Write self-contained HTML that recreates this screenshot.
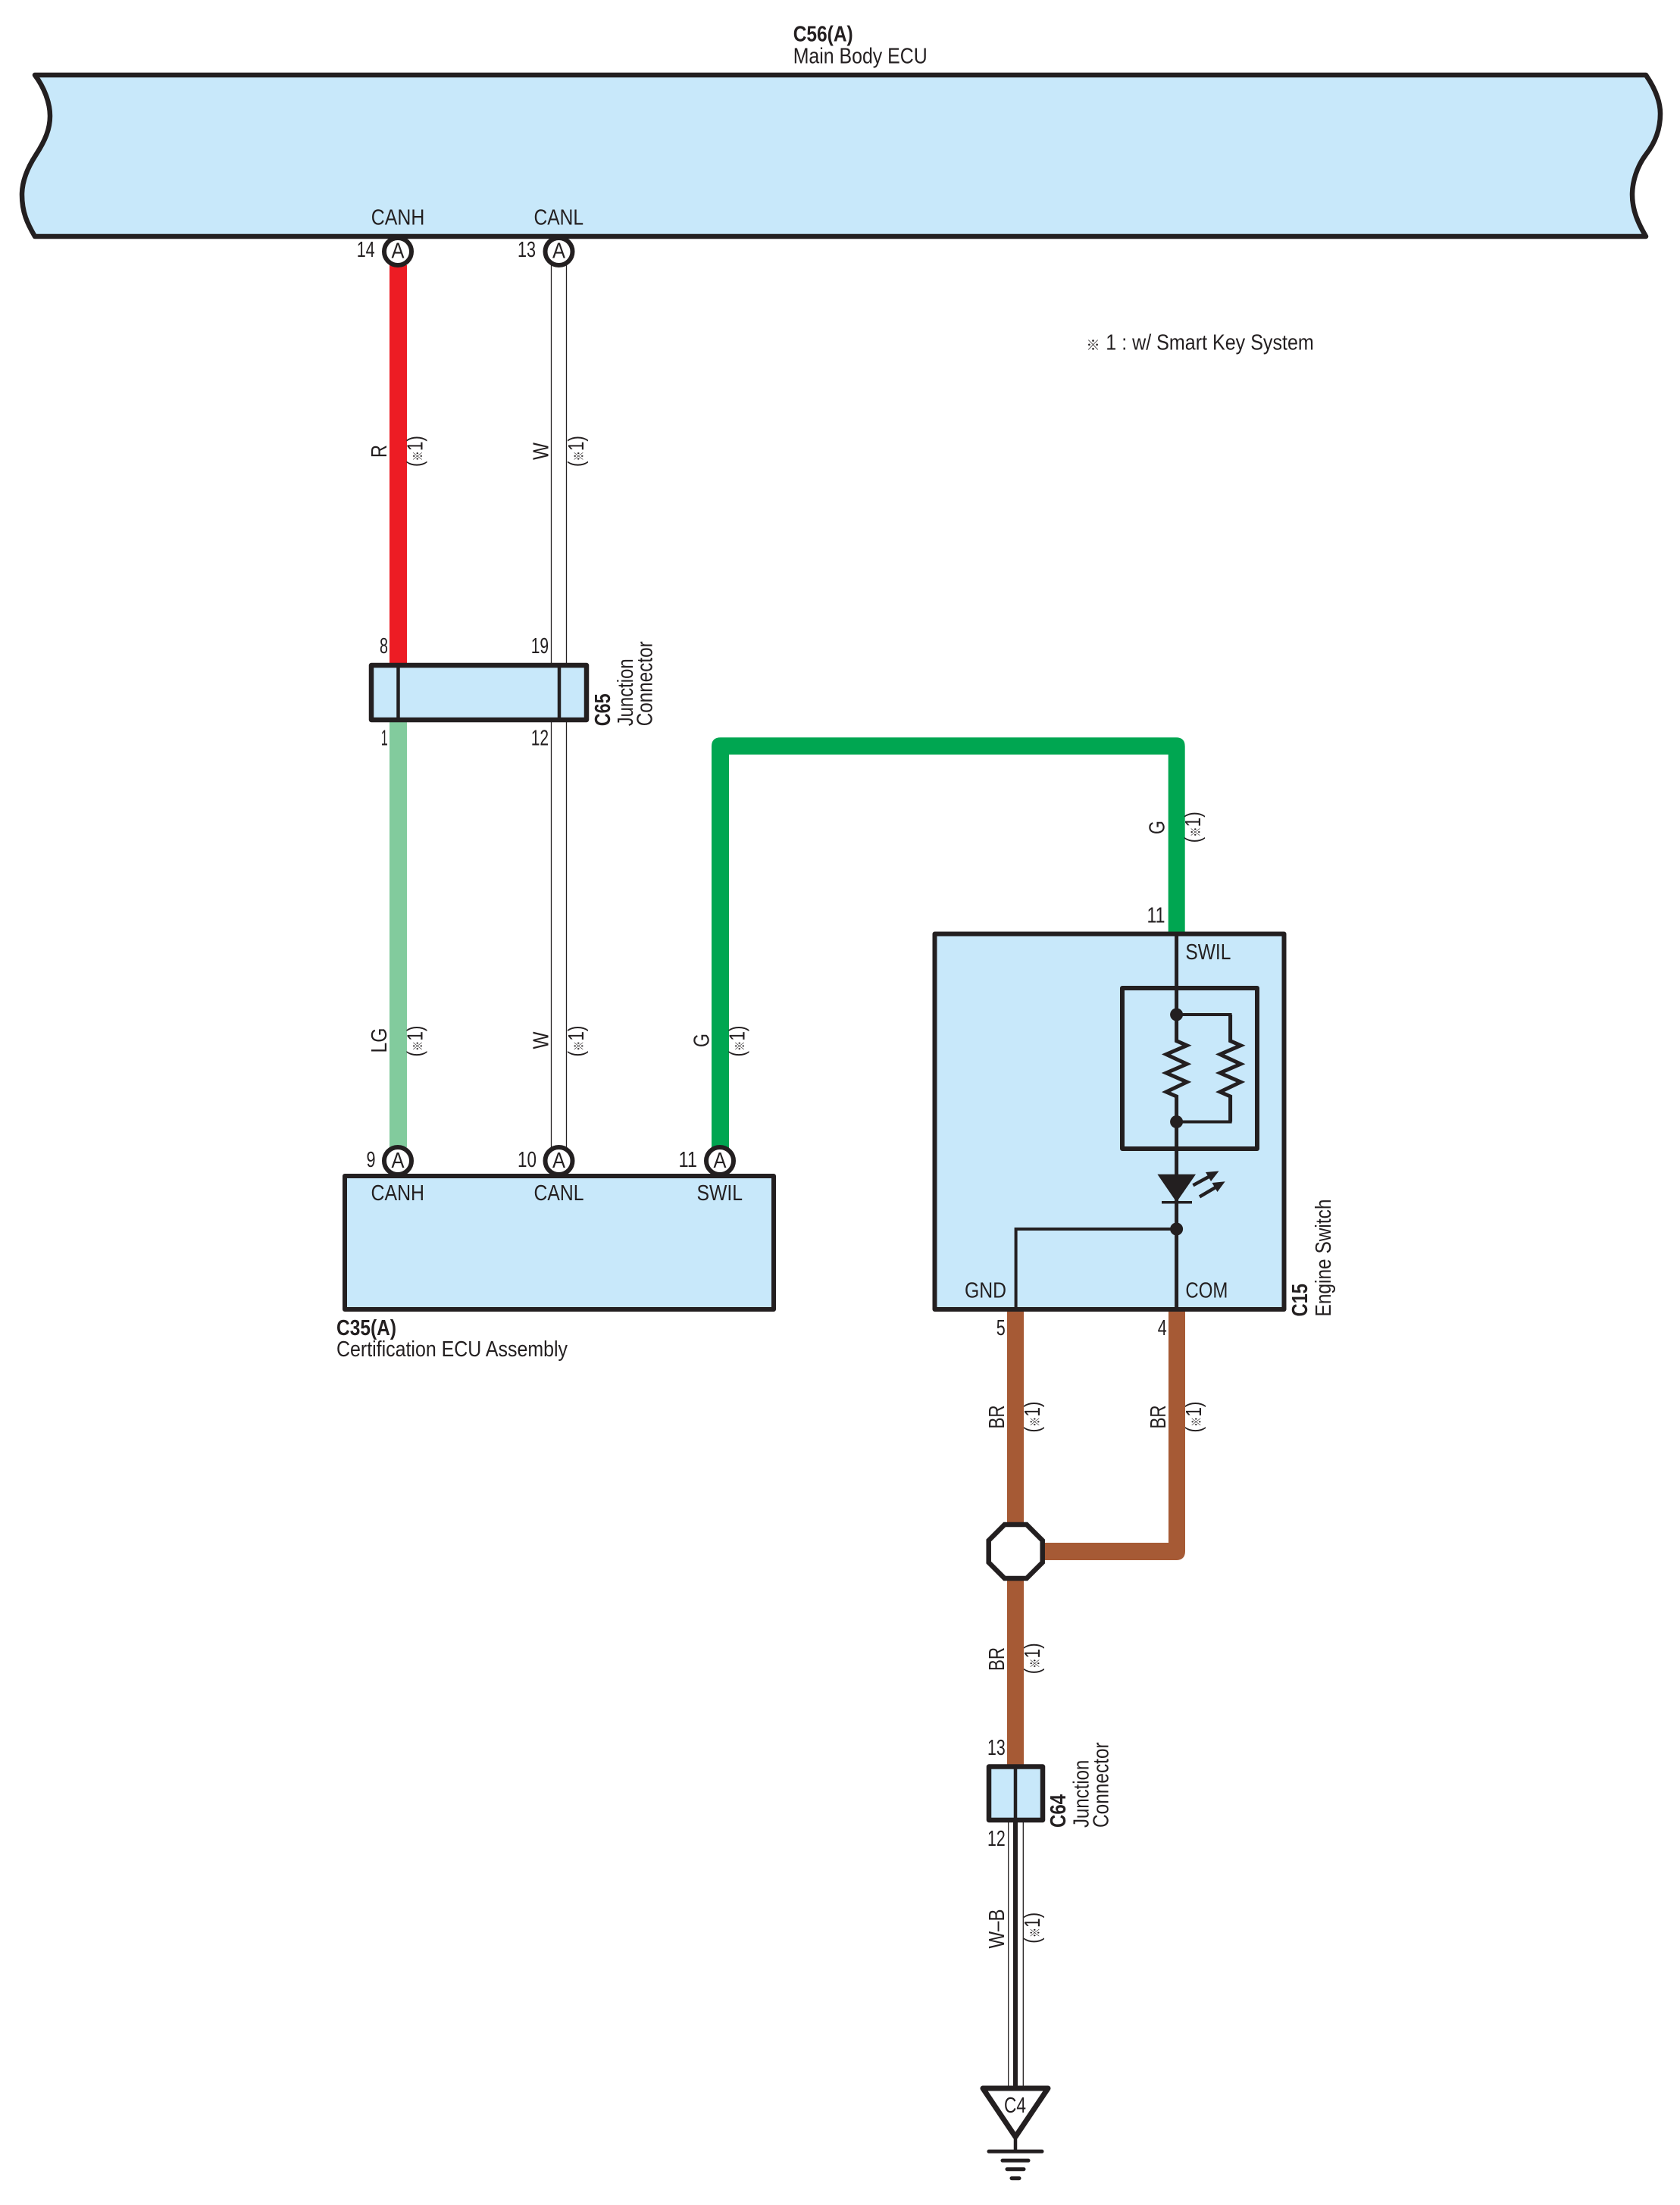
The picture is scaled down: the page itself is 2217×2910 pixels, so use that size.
<!DOCTYPE html>
<html>
<head>
<meta charset="utf-8">
<style>
html,body{margin:0;padding:0;background:#fff}
svg{display:block}
text{font-family:"Liberation Sans","Noto Sans CJK JP",sans-serif;font-size:29px;fill:#231f20}
.b{font-weight:bold}
</style>
</head>
<body>
<svg width="2217" height="2910" viewBox="0 0 2217 2910" xmlns="http://www.w3.org/2000/svg">
<rect width="2217" height="2910" fill="#fff"/>

<!-- Main body ECU -->
<path d="M46 99H2172C2185 118 2191 135 2191 150C2191 172 2183 190 2172 204C2160 220 2154 240 2154 257C2154 278 2162 295 2172 312H46C36 295 29 280 29 257C29 240 36 222 47 205C60 185 66 170 66 153C66 135 58 115 46 99Z" fill="#c8e8fa" stroke="#231f20" stroke-width="6.5" stroke-linejoin="round"/>

<!-- Wires -->
<rect x="514" y="350" width="23" height="526" fill="#ed1c24"/>
<rect x="514" y="952" width="23" height="562" fill="#82cb9d"/>
<g stroke="#231f20" stroke-width="1.3" fill="none">
<path d="M727.5 350V1514M747.5 350V1514"/>
<path d="M1330.7 2405V2756M1350.3 2405V2756"/>
</g>
<path d="M939 1515V985Q939 973.3 951 973.3H1552Q1563.7 973.3 1563.7 985V1233H1541.7V995.7H962V1515Z" fill="#00a651"/>
<path d="M1542 1728V2036H1375V2059H1552Q1564 2059 1564 2047V1728Z" fill="#a65a35"/>
<rect x="1329" y="1728" width="22" height="285" fill="#a65a35"/>
<rect x="1329" y="2083" width="22" height="250" fill="#a65a35"/>
<rect x="1337" y="2402" width="6" height="356" fill="#231f20"/>

<!-- C65 -->
<rect x="490" y="878" width="284" height="72" fill="#c8e8fa" stroke="#231f20" stroke-width="6.5" stroke-linejoin="round"/>
<path d="M525.5 878V950M738 878V950" stroke="#231f20" stroke-width="4.5" fill="none"/>

<!-- C35(A) -->
<rect x="455" y="1552" width="566" height="176" fill="#c8e8fa" stroke="#231f20" stroke-width="6" stroke-linejoin="round"/>

<!-- pin circles -->
<g fill="#fff" stroke="#231f20" stroke-width="6">
<circle cx="525" cy="332" r="18"/>
<circle cx="737.5" cy="332" r="18"/>
<circle cx="525" cy="1532" r="18"/>
<circle cx="737.5" cy="1532" r="18"/>
<circle cx="950" cy="1532" r="18"/>
</g>
<g text-anchor="middle">
<text x="525" y="340.5" textLength="17" lengthAdjust="spacingAndGlyphs" style="font-size:29px">A</text>
<text x="737.5" y="340.5" textLength="17" lengthAdjust="spacingAndGlyphs" style="font-size:29px">A</text>
<text x="525" y="1541" textLength="17" lengthAdjust="spacingAndGlyphs" style="font-size:29px">A</text>
<text x="737.5" y="1541" textLength="17" lengthAdjust="spacingAndGlyphs" style="font-size:29px">A</text>
<text x="950" y="1541" textLength="17" lengthAdjust="spacingAndGlyphs" style="font-size:29px">A</text>
</g>

<!-- C15 -->
<rect x="1233.5" y="1232.5" width="461" height="495.5" fill="#c8e8fa" stroke="#231f20" stroke-width="6" stroke-linejoin="round"/>
<rect x="1481" y="1304" width="178" height="212" fill="none" stroke="#231f20" stroke-width="6" stroke-linejoin="round"/>
<g fill="none" stroke="#231f20" stroke-width="5" stroke-linejoin="miter">
<path d="M1552.6 1233V1373.7L1566.3 1379.7L1539 1391.5L1566.3 1404.2L1539 1416L1566.3 1428L1539 1441L1552.6 1447V1728"/>
<path d="M1623.6 1339V1373.7L1637.3 1379.7L1610 1391.5L1637.3 1404.2L1610 1416L1637.3 1428L1610 1441L1623.6 1447V1480.5"/>
</g>
<g fill="none" stroke="#231f20" stroke-width="4">
<path d="M1552.6 1339H1625.6M1552.6 1480.5H1625.6"/>
<path d="M1552.6 1622H1340.6V1728"/>
</g>
<g fill="#231f20">
<circle cx="1552.6" cy="1339" r="8.5"/>
<circle cx="1552.6" cy="1480.5" r="8.5"/>
<circle cx="1552.6" cy="1622" r="8.5"/>
<polygon points="1527.4,1549.7 1578,1549.7 1552.6,1586.5"/>
<rect x="1533" y="1585" width="40" height="3.5"/>
<polygon points="1608.5,1545.5 1598,1559 1591,1547"/>
<polygon points="1616.7,1559.3 1606.5,1573 1599.5,1561"/>
</g>
<path d="M1574.4 1564.3L1596 1552.5M1583 1579.4L1604 1567" stroke="#231f20" stroke-width="4.5" fill="none"/>

<!-- Splice -->
<polygon points="1325.7,2012 1354.7,2012 1375.7,2033 1375.7,2062 1354.7,2083 1325.7,2083 1304.7,2062 1304.7,2033" fill="#fff" stroke="#231f20" stroke-width="6.5"/>

<!-- C64 -->
<rect x="1305" y="2331.5" width="71" height="70.5" fill="#c8e8fa" stroke="#231f20" stroke-width="6.5" stroke-linejoin="round"/>
<path d="M1340 2331.5V2402" stroke="#231f20" stroke-width="4.5" fill="none"/>

<!-- Ground -->
<polygon points="1297,2756 1383,2756 1340,2820" fill="#fff" stroke="#231f20" stroke-width="7" stroke-linejoin="round"/>
<path d="M1340 2820V2839" stroke="#231f20" stroke-width="4.5"/>
<g stroke="#231f20" stroke-width="5" stroke-linecap="round">
<path d="M1305 2839.3H1375M1323 2851.3H1357M1329 2862.7H1351M1335 2874.7H1345"/>
</g>

<!-- Horizontal labels -->
<text class="b" x="1046.7" y="54.3" textLength="79" lengthAdjust="spacingAndGlyphs">C56(A)</text>
<text x="1046.7" y="83.3" textLength="177" lengthAdjust="spacingAndGlyphs">Main Body ECU</text>
<text x="1433.5" y="462" style="font-size:18px">※</text>
<text x="1459.3" y="461.7" textLength="274.5" lengthAdjust="spacingAndGlyphs">1 : w/ Smart Key System</text>

<text x="489.8" y="296.7" textLength="70.5" lengthAdjust="spacingAndGlyphs">CANH</text>
<text x="704.5" y="296.7" textLength="65.5" lengthAdjust="spacingAndGlyphs">CANL</text>
<text x="470.7" y="339" textLength="24" lengthAdjust="spacingAndGlyphs">14</text>
<text x="683" y="339" textLength="24" lengthAdjust="spacingAndGlyphs">13</text>

<text x="501" y="862" textLength="11" lengthAdjust="spacingAndGlyphs">8</text>
<text x="700.7" y="862" textLength="23.4" lengthAdjust="spacingAndGlyphs">19</text>
<text x="502.7" y="983.3" textLength="9" lengthAdjust="spacingAndGlyphs">1</text>
<text x="700.7" y="983.3" textLength="23.4" lengthAdjust="spacingAndGlyphs">12</text>

<text x="483.5" y="1540" textLength="12" lengthAdjust="spacingAndGlyphs">9</text>
<text x="683" y="1540" textLength="25" lengthAdjust="spacingAndGlyphs">10</text>
<text x="895.5" y="1540" textLength="24.5" lengthAdjust="spacingAndGlyphs">11</text>
<text x="489.5" y="1584" textLength="70.5" lengthAdjust="spacingAndGlyphs">CANH</text>
<text x="704.5" y="1584" textLength="66" lengthAdjust="spacingAndGlyphs">CANL</text>
<text x="919.5" y="1584" textLength="60.5" lengthAdjust="spacingAndGlyphs">SWIL</text>
<text class="b" x="444" y="1762" textLength="79" lengthAdjust="spacingAndGlyphs">C35(A)</text>
<text x="444" y="1790" textLength="305" lengthAdjust="spacingAndGlyphs">Certification ECU Assembly</text>

<text x="1513.5" y="1217.6" textLength="24" lengthAdjust="spacingAndGlyphs">11</text>
<text x="1564.4" y="1266" textLength="60" lengthAdjust="spacingAndGlyphs">SWIL</text>
<text x="1273" y="1712.6" textLength="55" lengthAdjust="spacingAndGlyphs">GND</text>
<text x="1564.4" y="1712.6" textLength="56" lengthAdjust="spacingAndGlyphs">COM</text>
<text x="1314.7" y="1762" textLength="12" lengthAdjust="spacingAndGlyphs">5</text>
<text x="1527.8" y="1762" textLength="12" lengthAdjust="spacingAndGlyphs">4</text>
<text x="1303" y="2316" textLength="23.7" lengthAdjust="spacingAndGlyphs">13</text>
<text x="1303" y="2436" textLength="23.7" lengthAdjust="spacingAndGlyphs">12</text>
<text x="1325" y="2788" textLength="29" lengthAdjust="spacingAndGlyphs">C4</text>

<!-- Rotated connector labels -->
<text class="b" transform="translate(805 958.3) rotate(-90)" textLength="43" lengthAdjust="spacingAndGlyphs">C65</text>
<text transform="translate(835 958.3) rotate(-90)" textLength="89" lengthAdjust="spacingAndGlyphs">Junction</text>
<text transform="translate(860.7 958.3) rotate(-90)" textLength="112" lengthAdjust="spacingAndGlyphs">Connector</text>
<text class="b" transform="translate(1725 1737.5) rotate(-90)" textLength="43.5" lengthAdjust="spacingAndGlyphs">C15</text>
<text transform="translate(1756 1737.5) rotate(-90)" textLength="155" lengthAdjust="spacingAndGlyphs">Engine Switch</text>
<text class="b" transform="translate(1406 2412) rotate(-90)" textLength="44" lengthAdjust="spacingAndGlyphs">C64</text>
<text transform="translate(1436.7 2412) rotate(-90)" textLength="89.3" lengthAdjust="spacingAndGlyphs">Junction</text>
<text transform="translate(1462.7 2412) rotate(-90)" textLength="112.7" lengthAdjust="spacingAndGlyphs">Connector</text>

<!-- Rotated wire colour labels -->
<g text-anchor="middle">
<text transform="translate(510 595.5) rotate(-90)" textLength="17" lengthAdjust="spacingAndGlyphs">R</text>
<text transform="translate(723.3 595.5) rotate(-90)" textLength="23" lengthAdjust="spacingAndGlyphs">W</text>
<text transform="translate(510 1373) rotate(-90)" textLength="33" lengthAdjust="spacingAndGlyphs">LG</text>
<text transform="translate(723.3 1373) rotate(-90)" textLength="23" lengthAdjust="spacingAndGlyphs">W</text>
<text transform="translate(935.5 1373) rotate(-90)" textLength="18" lengthAdjust="spacingAndGlyphs">G</text>
<text transform="translate(1536.7 1092) rotate(-90)" textLength="18" lengthAdjust="spacingAndGlyphs">G</text>
<text transform="translate(1325 1870) rotate(-90)" textLength="31" lengthAdjust="spacingAndGlyphs">BR</text>
<text transform="translate(1538 1870) rotate(-90)" textLength="31" lengthAdjust="spacingAndGlyphs">BR</text>
<text transform="translate(1325 2189.5) rotate(-90)" textLength="31" lengthAdjust="spacingAndGlyphs">BR</text>
<text transform="translate(1325 2545.5) rotate(-90)" textLength="52" lengthAdjust="spacingAndGlyphs">W–B</text>

<text transform="translate(557.3 595.5) rotate(-90)" textLength="41" lengthAdjust="spacingAndGlyphs">(<tspan style="font-size:17px">※</tspan>1)</text>
<text transform="translate(770 595.5) rotate(-90)" textLength="41" lengthAdjust="spacingAndGlyphs">(<tspan style="font-size:17px">※</tspan>1)</text>
<text transform="translate(557.3 1374) rotate(-90)" textLength="41" lengthAdjust="spacingAndGlyphs">(<tspan style="font-size:17px">※</tspan>1)</text>
<text transform="translate(770 1374) rotate(-90)" textLength="41" lengthAdjust="spacingAndGlyphs">(<tspan style="font-size:17px">※</tspan>1)</text>
<text transform="translate(982.5 1374) rotate(-90)" textLength="41" lengthAdjust="spacingAndGlyphs">(<tspan style="font-size:17px">※</tspan>1)</text>
<text transform="translate(1584 1091.7) rotate(-90)" textLength="41" lengthAdjust="spacingAndGlyphs">(<tspan style="font-size:17px">※</tspan>1)</text>
<text transform="translate(1372 1870) rotate(-90)" textLength="41" lengthAdjust="spacingAndGlyphs">(<tspan style="font-size:17px">※</tspan>1)</text>
<text transform="translate(1585 1870) rotate(-90)" textLength="41" lengthAdjust="spacingAndGlyphs">(<tspan style="font-size:17px">※</tspan>1)</text>
<text transform="translate(1372 2188.8) rotate(-90)" textLength="41" lengthAdjust="spacingAndGlyphs">(<tspan style="font-size:17px">※</tspan>1)</text>
<text transform="translate(1372 2544.3) rotate(-90)" textLength="41" lengthAdjust="spacingAndGlyphs">(<tspan style="font-size:17px">※</tspan>1)</text>
</g>
</svg>
</body>
</html>
